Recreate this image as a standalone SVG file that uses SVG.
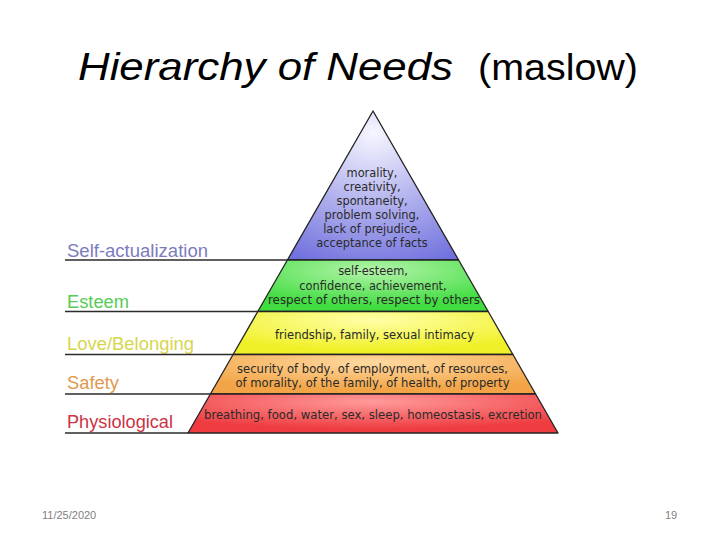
<svg xmlns="http://www.w3.org/2000/svg" width="720" height="540" viewBox="0 0 720 540">
<defs>
<radialGradient id="gPurple" cx="50%" cy="15%" r="95%"><stop offset="0" stop-color="#f6f6ff"/><stop offset="1" stop-color="#7070de"/></radialGradient>
<radialGradient id="gGreen" cx="50%" cy="20%" r="70%"><stop offset="0" stop-color="#b4f4aa"/><stop offset="1" stop-color="#40dc40"/></radialGradient>
<radialGradient id="gYellow" cx="50%" cy="20%" r="70%"><stop offset="0" stop-color="#ffffa8"/><stop offset="1" stop-color="#f0f028"/></radialGradient>
<radialGradient id="gOrange" cx="50%" cy="20%" r="70%"><stop offset="0" stop-color="#ffd9a0"/><stop offset="1" stop-color="#f2a446"/></radialGradient>
<radialGradient id="gRed" cx="50%" cy="20%" r="70%"><stop offset="0" stop-color="#ff9a9a"/><stop offset="1" stop-color="#ee3c40"/></radialGradient>
</defs>
<style>
.title{font-family:"Liberation Sans",Arial,sans-serif;fill:#000}
.lbl{font-family:"Liberation Sans",Arial,sans-serif;font-size:17.5px}
.in{font-family:"DejaVu Sans",Verdana,sans-serif;font-size:11.4px;fill:#2a2a2a;text-anchor:middle}
.band{stroke:#222;stroke-width:1.3;stroke-linejoin:round}
.sep{stroke:#2b2b2b;stroke-width:1.6;fill:none}
.foot{font-family:"Liberation Sans",Arial,sans-serif;font-size:11px;fill:#7f7f7f}
</style>
<rect width="720" height="540" fill="#fff"/>
<text class="title" x="78" y="80" font-size="38" font-style="italic" textLength="375" lengthAdjust="spacingAndGlyphs">Hierarchy of Needs</text>
<text class="title" x="478" y="80" font-size="36" textLength="160" lengthAdjust="spacingAndGlyphs">(maslow)</text>

<g id="self-actualization">
<polygon class="band" fill="url(#gPurple)" points="373,111 458.6,260 287.4,260"/>
<text class="lbl" x="67" y="257" fill="#7b7bbd" textLength="141" lengthAdjust="spacingAndGlyphs">Self-actualization</text>
<text class="in" x="372" y="176.5">morality,</text>
<text class="in" x="372" y="190.5">creativity,</text>
<text class="in" x="372" y="204.5">spontaneity,</text>
<text class="in" x="372" y="218.5">problem solving,</text>
<text class="in" x="372" y="232.5">lack of prejudice,</text>
<text class="in" x="372" y="246.5">acceptance of facts</text>
</g>
<g id="esteem">
<polygon class="band" fill="url(#gGreen)" points="287.4,260 458.6,260 488.2,311.5 257.8,311.5"/>
<text class="lbl" x="67" y="308" fill="#56cc56" textLength="62" lengthAdjust="spacingAndGlyphs">Esteem</text>
<text class="in" x="373" y="274.5">self-esteem,</text>
<text class="in" x="373" y="289.5">confidence, achievement,</text>
<text class="in" x="374" y="303.5" textLength="212" lengthAdjust="spacingAndGlyphs">respect of others, respect by others</text>
</g>
<g id="love-belonging">
<polygon class="band" fill="url(#gYellow)" points="257.8,311.5 488.2,311.5 512.9,354.5 233.1,354.5"/>
<text class="lbl" x="67" y="350" fill="#d6d64c" textLength="127" lengthAdjust="spacingAndGlyphs">Love/Belonging</text>
<text class="in" x="374.5" y="338.5" textLength="199" lengthAdjust="spacingAndGlyphs">friendship, family, sexual intimacy</text>
</g>
<g id="safety">
<polygon class="band" fill="url(#gOrange)" points="233.1,354.5 512.9,354.5 535.6,394 210.4,394"/>
<text class="lbl" x="67" y="389" fill="#e0994f" textLength="52" lengthAdjust="spacingAndGlyphs">Safety</text>
<text class="in" x="372.5" y="372.5" textLength="271" lengthAdjust="spacingAndGlyphs">security of body, of employment, of resources,</text>
<text class="in" x="372.5" y="386.5" textLength="274" lengthAdjust="spacingAndGlyphs">of morality, of the family, of health, of property</text>
</g>
<g id="physiological">
<polygon class="band" fill="url(#gRed)" points="210.4,394 535.6,394 558,433 188,433"/>
<text class="lbl" x="67" y="428" fill="#cc3344" textLength="106" lengthAdjust="spacingAndGlyphs">Physiological</text>
<text class="in" x="373" y="419" textLength="338" lengthAdjust="spacingAndGlyphs">breathing, food, water, sex, sleep, homeostasis, excretion</text>
</g>

<g id="connectors">
<line class="sep" x1="65" y1="260" x2="287.4" y2="260"/>
<line class="sep" x1="65" y1="311.5" x2="257.8" y2="311.5"/>
<line class="sep" x1="65" y1="354.5" x2="233.1" y2="354.5"/>
<line class="sep" x1="65" y1="394" x2="210.4" y2="394"/>
<line class="sep" x1="65" y1="433" x2="188" y2="433"/>
</g>

<text class="foot" x="42" y="519">11/25/2020</text>
<text class="foot" x="665" y="519">19</text>
</svg>
